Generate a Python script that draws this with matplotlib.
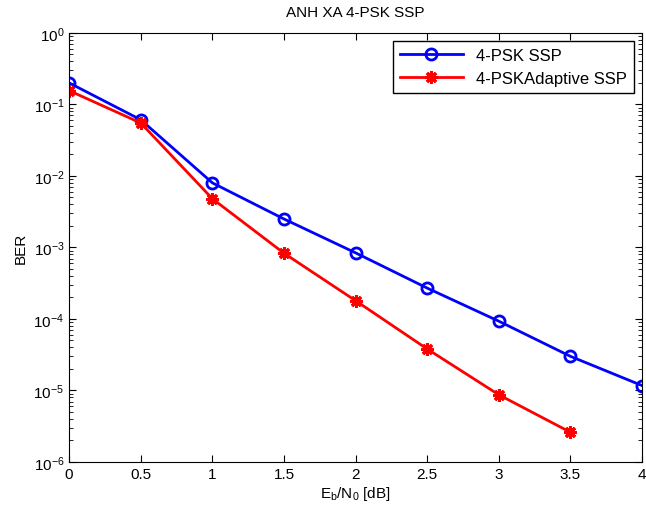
import matplotlib
matplotlib.use("Agg")
import matplotlib.pyplot as plt

plt.rcParams['font.family'] = ['Liberation Sans', 'DejaVu Sans']

snr = [0, 0.5, 1, 1.5, 2, 2.5, 3, 3.5, 4]
ber_ssp = [0.20, 0.061, 0.0080, 0.0025, 0.00084, 0.00027, 9.3e-5, 3.0e-5, 1.17e-5]
snr_adapt = [0, 0.5, 1, 1.5, 2, 2.5, 3, 3.5]
ber_adapt = [0.156, 0.055, 0.0048, 8.3e-4, 1.8e-4, 3.8e-5, 8.7e-6, 2.6e-6]

fig = plt.figure(figsize=(6.46, 5.06), dpi=100)
ax = fig.add_axes([0.107, 0.085, 0.887, 0.848])

ax.semilogy(snr, ber_ssp, color="blue", marker="o", markersize=8, markerfacecolor="none",
            markeredgewidth=2, linewidth=2, label="4-PSK SSP")
ax.semilogy(snr_adapt, ber_adapt, color="red", marker=(8, 2, 0), markersize=9,
            markeredgewidth=2.2, linewidth=2, label="4-PSKAdaptive SSP")

ax.set_xlim(0, 4)
ax.set_ylim(1e-6, 1)
ax.set_xticks([0, 0.5, 1, 1.5, 2, 2.5, 3, 3.5, 4])
ax.set_xticklabels(["0", "0.5", "1", "1.5", "2", "2.5", "3", "3.5", "4"])
ax.tick_params(which="both", direction="in", top=True, right=True, labelsize=11)
ax.tick_params(which="major", length=5)
ax.tick_params(which="minor", length=3)

ax.set_title("ANH XA 4-PSK SSP", fontsize=11, pad=12)
ax.set_xlabel("E$_\\mathregular{b}$/N$_\\mathregular{0}$ [dB]", fontsize=11, labelpad=2)
ax.set_ylabel("BER", fontsize=11)

leg = ax.legend(loc="upper right", fontsize=12, fancybox=False, edgecolor="black",
                framealpha=1, borderaxespad=0.5, handlelength=3.8, labelspacing=0.5)
leg.get_frame().set_linewidth(1)

fig.savefig("out.png", dpi=100)
